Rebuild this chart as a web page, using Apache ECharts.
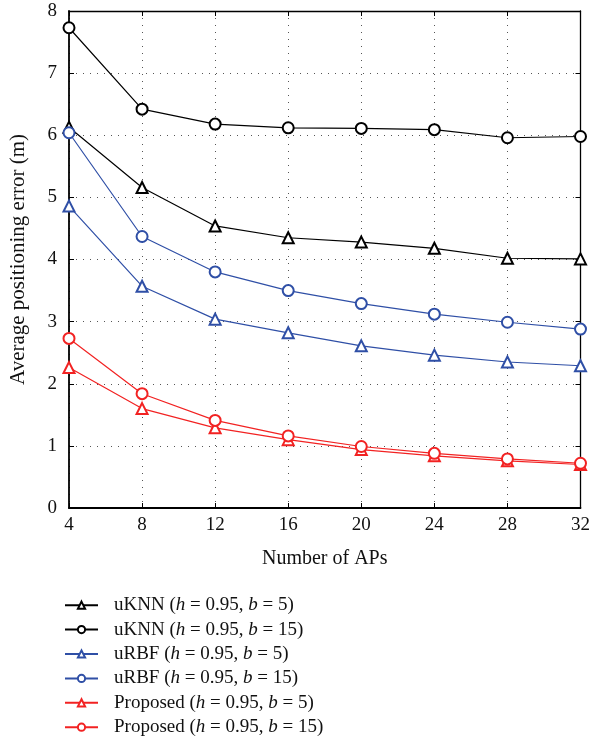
<!DOCTYPE html>
<html>
<head>
<meta charset="utf-8">
<script src="https://cdn.jsdelivr.net/npm/echarts@6/dist/echarts.min.js"></script>
<style>
  html, body { margin: 0; padding: 0; background: #fff; }
  #chart { width: 593px; height: 753px; }
</style>
</head>
<body>
<div id="chart"></div>
<script>
// Number of access points (x axis)
const numAPs = [4, 8, 12, 16, 20, 24, 28, 32];

// Average positioning error (m) per method
const uknnB5      = [6.13, 5.16, 4.54, 4.35, 4.28, 4.18, 4.02, 4.01];
const uknnB15     = [7.73, 6.42, 6.18, 6.12, 6.11, 6.09, 5.96, 5.98];
const urbfB5      = [4.86, 3.57, 3.04, 2.82, 2.61, 2.46, 2.35, 2.29];
const urbfB15     = [6.04, 4.37, 3.80, 3.50, 3.29, 3.12, 2.99, 2.88];
const proposedB5  = [2.26, 1.60, 1.29, 1.10, 0.94, 0.84, 0.76, 0.70];
const proposedB15 = [2.73, 1.84, 1.41, 1.16, 0.99, 0.88, 0.79, 0.72];

const seriesNames = [
  'uKNN (h = 0.95, b = 5)',
  'uKNN (h = 0.95, b = 15)',
  'uRBF (h = 0.95, b = 5)',
  'uRBF (h = 0.95, b = 15)',
  'Proposed (h = 0.95, b = 5)',
  'Proposed (h = 0.95, b = 15)'
];
const legendRich = [
  'uKNN ({i|h} = 0.95, {i|b} = 5)',
  'uKNN ({i|h} = 0.95, {i|b} = 15)',
  'uRBF ({i|h} = 0.95, {i|b} = 5)',
  'uRBF ({i|h} = 0.95, {i|b} = 15)',
  'Proposed ({i|h} = 0.95, {i|b} = 5)',
  'Proposed ({i|h} = 0.95, {i|b} = 15)'
];

const BLACK = '#000000';
const BLUE = '#2f4fa6';
const RED = '#f22222';
const FONT = 'Liberation Serif';

function makeSeries(name, values, color, symbol) {
  return {
    name: name,
    type: 'line',
    data: numAPs.map((x, i) => [x, values[i]]),
    symbol: symbol,
    symbolSize: 11,
    showAllSymbol: true,
    lineStyle: { color: color, width: 1.2 },
    itemStyle: { color: color, borderColor: color, borderWidth: 1.2 },
    emphasis: { disabled: true },
    z: 3
  };
}

const chart = echarts.init(document.getElementById('chart'), null, { renderer: 'canvas' });

const gridLine = { show: true, lineStyle: { color: '#555', width: 1, type: [1, 6] } };

chart.setOption({
  animation: false,
  backgroundColor: '#fff',
  grid: { left: 64, right: 12, top: 11, bottom: 245, containLabel: false },
  xAxis: [
    {
      type: 'value', min: 4, max: 32, interval: 4,
      name: 'Number of APs', nameLocation: 'middle', nameGap: 41,
      nameTextStyle: { fontFamily: FONT, fontSize: 20, color: '#111' },
      axisLine: { show: true, onZero: false, lineStyle: { color: '#000', width: 1.8 } },
      axisTick: { show: true, inside: true, length: 5, lineStyle: { color: '#000' } },
      axisLabel: { fontFamily: FONT, fontSize: 19, color: '#111', margin: 8 },
      splitLine: gridLine
    },
    {
      type: 'value', min: 4, max: 32, interval: 4, position: 'top',
      axisLine: { show: true, onZero: false, lineStyle: { color: '#000', width: 1.3 } },
      axisTick: { show: true, inside: true, length: 5, lineStyle: { color: '#000' } },
      axisLabel: { show: false },
      splitLine: { show: false }
    }
  ],
  yAxis: [
    {
      type: 'value', min: 0, max: 8, interval: 1,
      name: 'Average positioning error (m)', nameLocation: 'middle', nameGap: 40,
      nameTextStyle: { fontFamily: FONT, fontSize: 21, color: '#111' },
      axisLine: { show: true, onZero: false, lineStyle: { color: '#000', width: 1.8 } },
      axisTick: { show: true, inside: true, length: 5, lineStyle: { color: '#000' } },
      axisLabel: { fontFamily: FONT, fontSize: 19, color: '#111', margin: 12 },
      splitLine: gridLine
    },
    {
      type: 'value', min: 0, max: 8, interval: 1, position: 'right',
      axisLine: { show: true, onZero: false, lineStyle: { color: '#000', width: 1.3 } },
      axisTick: { show: true, inside: true, length: 5, lineStyle: { color: '#000' } },
      axisLabel: { show: false },
      splitLine: { show: false }
    }
  ],
  legend: {
    orient: 'vertical',
    left: 64,
    top: 593,
    height: 160,
    padding: 0,
    itemWidth: 33,
    itemHeight: 9,
    itemGap: 0,
    data: seriesNames,
    formatter: function (name) {
      return legendRich[seriesNames.indexOf(name)];
    },
    textStyle: {
      fontFamily: FONT, fontSize: 19, color: '#111', lineHeight: 24.4, padding: [0, 0, 0, 11],
      rich: { i: { fontFamily: FONT, fontStyle: 'italic', fontSize: 19, color: '#111', lineHeight: 24.4 } }
    }
  },
  series: [
    makeSeries(seriesNames[0], uknnB5, BLACK, 'emptyTriangle'),
    makeSeries(seriesNames[1], uknnB15, BLACK, 'emptyCircle'),
    makeSeries(seriesNames[2], urbfB5, BLUE, 'emptyTriangle'),
    makeSeries(seriesNames[3], urbfB15, BLUE, 'emptyCircle'),
    makeSeries(seriesNames[4], proposedB5, RED, 'emptyTriangle'),
    makeSeries(seriesNames[5], proposedB15, RED, 'emptyCircle')
  ]
});
</script>
</body>
</html>
